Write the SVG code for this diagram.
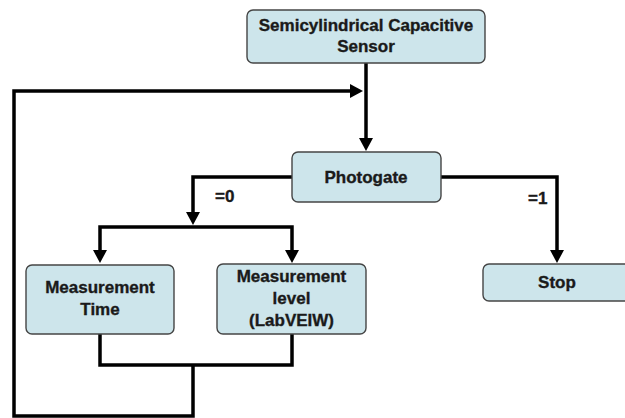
<svg xmlns="http://www.w3.org/2000/svg" width="625" height="418" viewBox="0 0 625 418">
<style>
.box{fill:#cde5eb;stroke:#454545;stroke-width:1.4}
.lbl{font-family:"Liberation Sans",Arial,sans-serif;font-weight:bold;font-size:17px;fill:#1a1a1a;stroke:#1a1a1a;stroke-width:0.35;text-anchor:middle}
.edge{fill:none;stroke:#000;stroke-width:3.5;stroke-linejoin:miter}
.elbl{font-family:"Liberation Sans",Arial,sans-serif;font-weight:bold;font-size:17px;fill:#1a1a1a;stroke:#1a1a1a;stroke-width:0.35}
</style>
<defs>
<marker id="ah" markerUnits="userSpaceOnUse" markerWidth="16" markerHeight="16" refX="2" refY="7" orient="auto">
<path d="M0,0 L13,7 L0,14 z" fill="#000"/>
</marker>
</defs>
<rect width="625" height="418" fill="#fff"/>
<g id="connectors">
<path class="edge" d="M366,63 V140" marker-end="url(#ah)"/>
<path class="edge" d="M193,365 V416 H14 V91 H352" marker-end="url(#ah)"/>
<path class="edge" d="M292,177 H193 V214" marker-end="url(#ah)"/>
<path class="edge" d="M193,227 H100 V252" marker-end="url(#ah)"/>
<path class="edge" d="M193,227 H292 V252" marker-end="url(#ah)"/>
<path class="edge" d="M441,177 H557 V252" marker-end="url(#ah)"/>
<path class="edge" d="M100,334 V365 H292 V334"/>
<text class="elbl" x="215" y="202">=0</text>
<text class="elbl" x="528" y="204">=1</text>
</g>
<g id="sensor">
<rect class="box" x="247" y="10" width="238" height="53" rx="6"/>
<text class="lbl" x="366" y="31">Semicylindrical Capacitive</text>
<text class="lbl" x="366" y="52">Sensor</text>
</g>
<g id="photogate">
<rect class="box" x="292" y="152" width="149" height="50" rx="6"/>
<text class="lbl" x="366" y="183">Photogate</text>
</g>
<g id="meas-time">
<rect class="box" x="26" y="265" width="148" height="69" rx="6"/>
<text class="lbl" x="100" y="293">Measurement</text>
<text class="lbl" x="100" y="315">Time</text>
</g>
<g id="meas-level">
<rect class="box" x="217" y="264" width="149" height="70" rx="6"/>
<text class="lbl" x="291.5" y="282">Measurement</text>
<text class="lbl" x="291.5" y="304">level</text>
<text class="lbl" x="291.5" y="326">(LabVEIW)</text>
</g>
<g id="stop">
<rect class="box" x="483" y="264" width="150" height="37" rx="6"/>
<text class="lbl" x="557" y="288">Stop</text>
</g>
</svg>
